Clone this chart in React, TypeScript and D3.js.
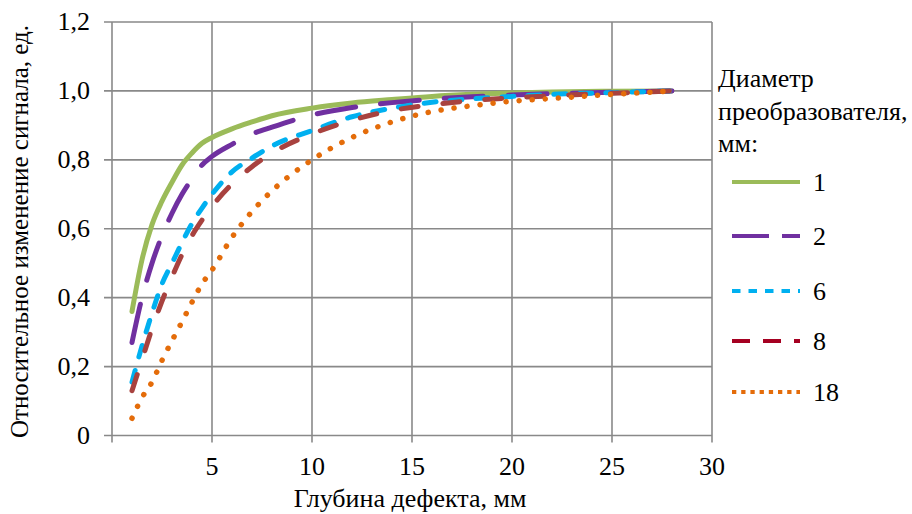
import React from "react";
import * as d3 from "d3";

const depth = [1, 1.5, 2, 2.5, 3, 3.5, 4, 4.5, 5, 6, 7, 8, 10, 12, 14, 16, 18, 20, 22, 25, 28];
const d1 = [0.36, 0.51, 0.612, 0.68, 0.735, 0.785, 0.82, 0.848, 0.865, 0.89, 0.91, 0.928, 0.95, 0.965, 0.975, 0.984, 0.99, 0.994, 0.997, 0.999, 1.0];
const d2 = [0.27, 0.4, 0.5, 0.58, 0.645, 0.7, 0.745, 0.785, 0.81, 0.845, 0.875, 0.895, 0.93, 0.952, 0.966, 0.976, 0.983, 0.988, 0.992, 0.996, 1.0];
const d6 = [0.155, 0.26, 0.355, 0.44, 0.5, 0.56, 0.615, 0.66, 0.7, 0.765, 0.805, 0.84, 0.885, 0.925, 0.95, 0.967, 0.977, 0.984, 0.99, 0.995, 1.0];
const d8 = [0.13, 0.22, 0.31, 0.39, 0.46, 0.525, 0.58, 0.625, 0.665, 0.73, 0.78, 0.82, 0.875, 0.915, 0.943, 0.96, 0.972, 0.98, 0.986, 0.993, 1.0];
const d18 = [0.05, 0.11, 0.155, 0.218, 0.275, 0.33, 0.387, 0.44, 0.48, 0.575, 0.65, 0.71, 0.8, 0.865, 0.91, 0.94, 0.957, 0.97, 0.978, 0.99, 1.0];

const seriesNames = ["1", "2", "6", "8", "18"];
const xTicks = [0, 5, 10, 15, 20, 25, 30];
const yTicks = [0, 0.2, 0.4, 0.6, 0.8, 1.0, 1.2];
const xTitle = "Глубина дефекта, мм";
const yTitle = "Относительное изменение сигнала, ед.";
const legendTitle = ["Диаметр", "преобразователя,", "мм:"];

const styles = [
  { color: "#9BBB59", legendColor: "#9BBB59", dash: null, legendDash: null, w: 5 },
  { color: "#7030A0", legendColor: "#7030A0", dash: "39 25", legendDash: "37 13", w: 5 },
  { color: "#00B0F0", legendColor: "#00B0F0", dash: "12 14", legendDash: "8.5 8", w: 5 },
  { color: "#A8423F", legendColor: "#A50021", dash: "17 25", legendDash: "18 13", w: 5 },
  { color: "#E46C0A", legendColor: "#E46C0A", dash: "0.1 13", legendDash: "4.3 4.9", w: 5.5 },
];

const FONT = "Liberation Serif";

export default function App() {
  const seriesData = [d1, d2, d6, d8, d18];
  const x = d3.scaleLinear().domain([0, 30]).range([112, 712]);
  const y = d3.scaleLinear().domain([0, 1.2]).range([435.5, 22]);
  const line = d3
    .line<[number, number]>()
    .x((d) => x(d[0]))
    .y((d) => y(d[1]))
    .curve(d3.curveMonotoneX);
  const fmt = (v: number) => (v === 0 ? "0" : v.toFixed(1).replace(".", ","));
  const grid = "#898989";
  const legendY = [182, 236, 291, 341, 392];

  return (
    <svg width={912} height={514} style={{ position: "absolute", left: 0, top: 0, background: "#fff" }}>
      <rect x={0} y={0} width={912} height={514} fill="#fff" />
      {yTicks.map((t) => (
        <line key={"gy" + t} x1={104} x2={x(30)} y1={y(t)} y2={y(t)} stroke={grid} strokeWidth={1.6} />
      ))}
      {xTicks.map((t) => (
        <line key={"gx" + t} x1={x(t)} x2={x(t)} y1={y(1.2)} y2={y(0) + 7} stroke={grid} strokeWidth={1.6} />
      ))}
      {yTicks.map((t) => (
        <text key={"yl" + t} x={90} y={y(t) + 8} textAnchor="end" fontSize={26} fill="#000" fontFamily={FONT}>
          {fmt(t)}
        </text>
      ))}
      {xTicks
        .filter((t) => t !== 0)
        .map((t) => (
          <text key={"xl" + t} x={x(t)} y={475} textAnchor="middle" fontSize={26} fill="#000" fontFamily={FONT}>
            {t}
          </text>
        ))}
      <text x={410} y={507} textAnchor="middle" fontSize={26} fill="#000" fontFamily={FONT}>
        {xTitle}
      </text>
      <text transform="translate(28, 231.5) rotate(-90)" textAnchor="middle" fontSize={25} fill="#000" fontFamily={FONT}>
        {yTitle}
      </text>
      {seriesData.map((vals, i) => {
        const pts = depth.map((d, j) => [d, vals[j]] as [number, number]);
        const s = styles[i];
        return (
          <path
            key={"s" + i}
            d={line(pts) || ""}
            fill="none"
            stroke={s.color}
            strokeWidth={s.w}
            strokeDasharray={s.dash || undefined}
            strokeLinecap="round"
            strokeLinejoin="round"
          />
        );
      })}
      {legendTitle.map((t, i) => (
        <text key={"lt" + i} x={718} y={87 + i * 32.5} fontSize={26} fill="#000" fontFamily={FONT}>
          {t}
        </text>
      ))}
      {seriesNames.map((n, i) => {
        const s = styles[i];
        return (
          <g key={"lg" + i}>
            <line
              x1={732}
              x2={800}
              y1={legendY[i]}
              y2={legendY[i]}
              stroke={s.legendColor}
              strokeWidth={4}
              strokeDasharray={s.legendDash || undefined}
            />
            <text x={813} y={legendY[i] + 9} fontSize={26} fill="#000" fontFamily={FONT}>
              {n}
            </text>
          </g>
        );
      })}
    </svg>
  );
}
